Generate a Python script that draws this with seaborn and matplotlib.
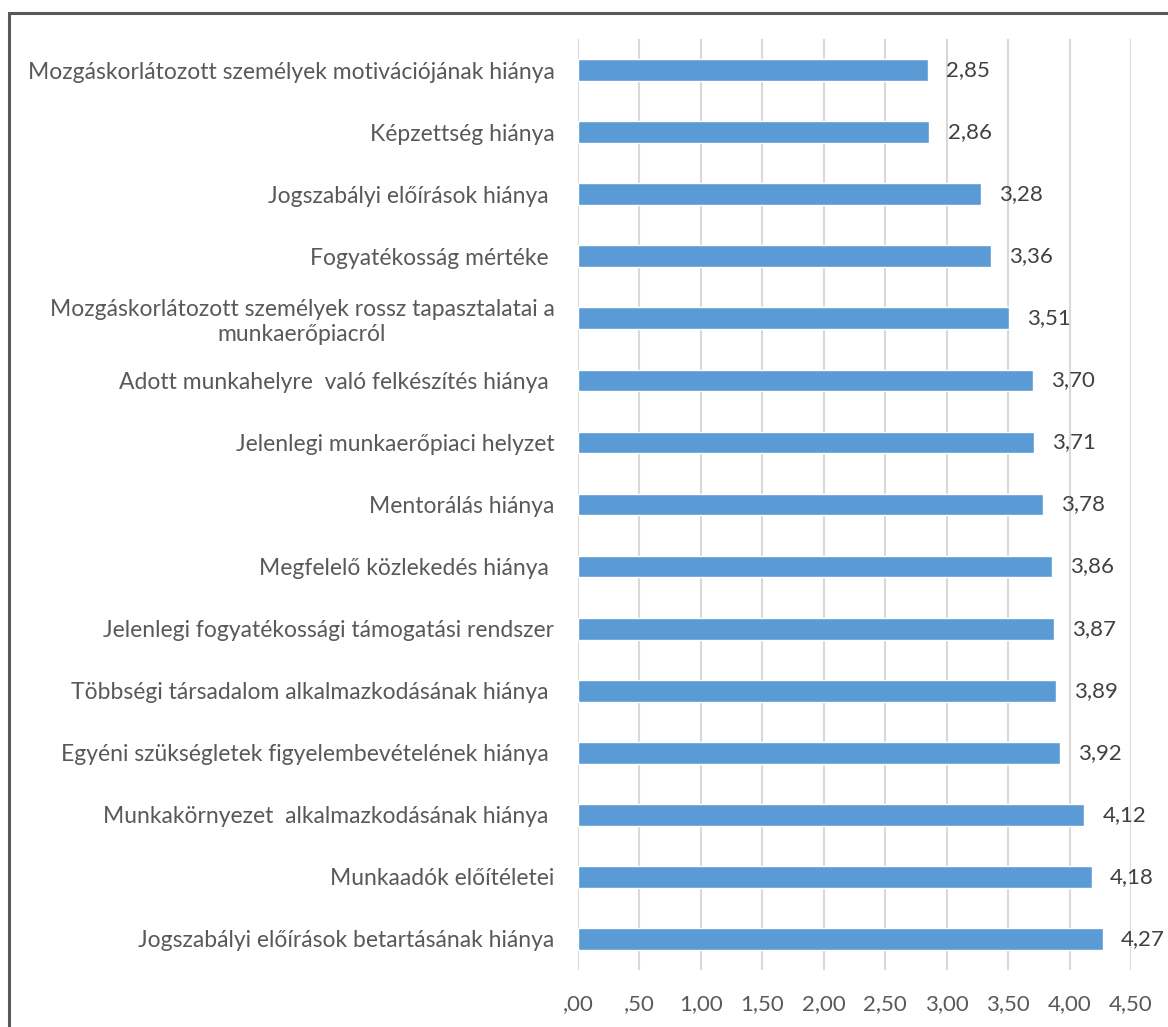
import matplotlib
matplotlib.use("Agg")
import matplotlib.pyplot as plt
import seaborn as sns
import pandas as pd
from matplotlib.patches import Rectangle

# categories (top to bottom) and mean values
labels = [
    "Mozgáskorlátozott személyek motivációjának hiánya",
    "Képzettség hiánya",
    "Jogszabályi előírások hiánya ",
    "Fogyatékosság mértéke ",
    "Mozgáskorlátozott személyek rossz tapasztalatai a\nmunkaerőpiacról",
    "Adott munkahelyre  való felkészítés hiánya ",
    "Jelenlegi munkaerőpiaci helyzet",
    "Mentorálás hiánya",
    "Megfelelő közlekedés hiánya ",
    "Jelenlegi fogyatékossági támogatási rendszer",
    "Többségi társadalom alkalmazkodásának hiánya ",
    "Egyéni szükségletek figyelembevételének hiánya ",
    "Munkakörnyezet  alkalmazkodásának hiánya ",
    "Munkaadók előítéletei",
    "Jogszabályi előírások betartásának hiánya",
]
values = [2.85, 2.86, 3.28, 3.36, 3.51, 3.70, 3.71, 3.78, 3.86, 3.87, 3.89, 3.92, 4.12, 4.18, 4.27]
xticks = [0, 0.5, 1, 1.5, 2, 2.5, 3, 3.5, 4, 4.5]
xticklabels = [",00", ",50", "1,00", "1,50", "2,00", "2,50", "3,00", "3,50", "4,00", "4,50"]

df = pd.DataFrame({"label": labels, "value": values})

sns.set_theme(style="white")
plt.rcParams["font.family"] = ["Lato", "DejaVu Sans"]

fig = plt.figure(figsize=(11.68, 10.27), dpi=100)
ax = fig.add_axes([0.4949, 0.0555, 0.4734, 0.9065])

sns.barplot(data=df, y="label", x="value", color="#5B9BD5", saturation=1,
            width=0.35, ax=ax, orient="h")

ax.set_xlim(0, 4.5)
ax.set_xticks(xticks)
ax.set_xticklabels(xticklabels, fontsize=16, color="#595959")
ax.tick_params(axis="x", length=0, pad=17)
ax.tick_params(axis="y", length=0, pad=17, labelsize=16.5, labelcolor="#595959")
for t in ax.get_yticklabels():
    t.set_multialignment("center")
ax.set_xlabel("")
ax.set_ylabel("")
ax.grid(axis="x", color="#D9D9D9", linewidth=1.5)
ax.set_axisbelow(True)
for s in ax.spines.values():
    s.set_visible(False)

for i, v in enumerate(values):
    ax.annotate(f"{v:.2f}".replace(".", ","), xy=(v, i), xytext=(13, 0),
                textcoords="offset points", va="center", ha="left",
                fontsize=16, color="#404040")

# outer frame (cut off at right and bottom)
fig.patches.append(Rectangle((9 / 1168, -0.05), 1.2, 1 - 13 / 1027 + 0.05,
                             transform=fig.transFigure, fill=False,
                             edgecolor="#595959", linewidth=2.2))

fig.savefig("out.png", dpi=100)
